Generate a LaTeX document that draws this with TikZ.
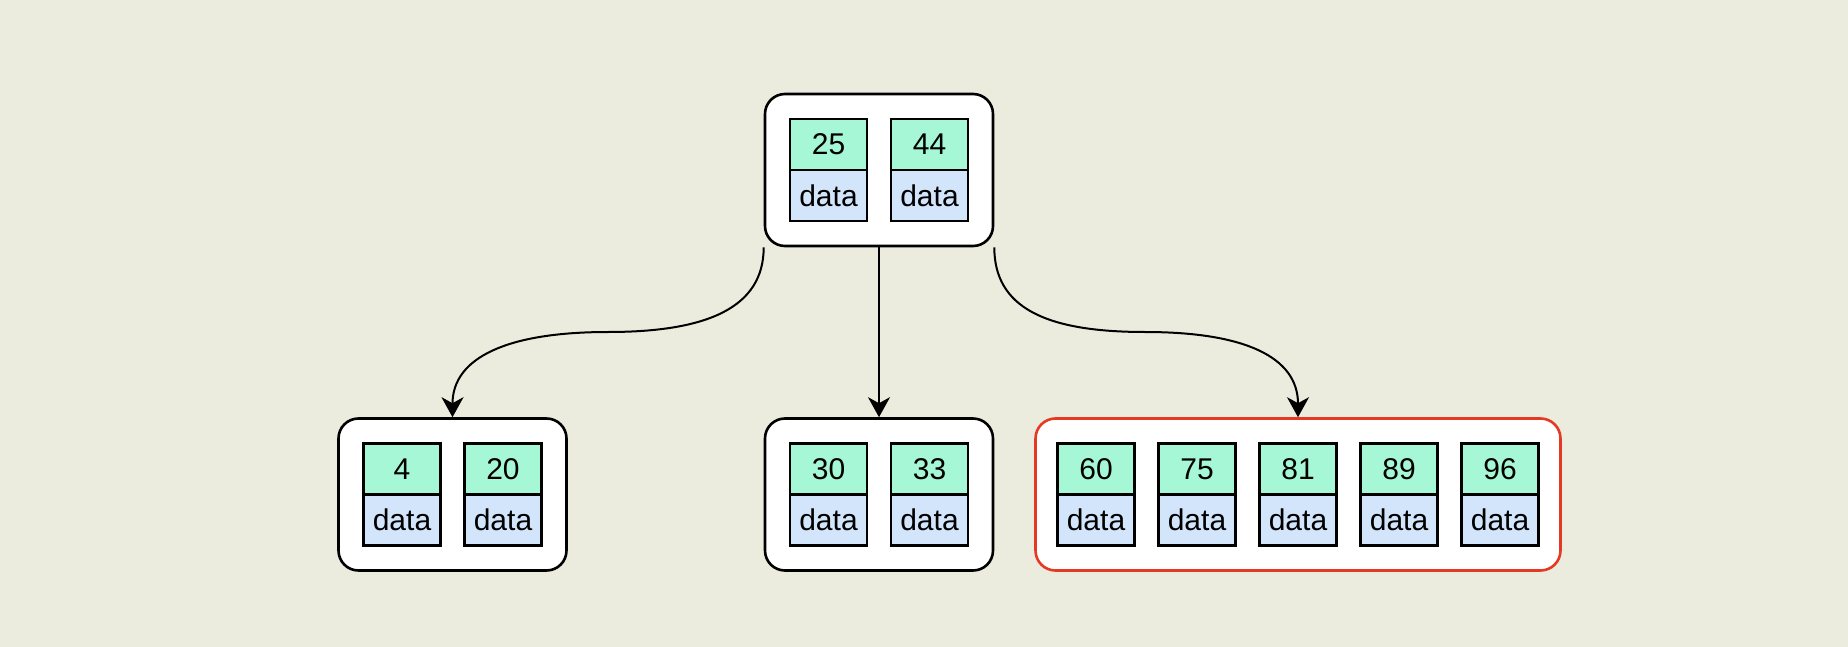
\documentclass[tikz,border=0pt]{standalone}
\usepackage{fontspec}
\setmainfont{Liberation Sans}
\usetikzlibrary{arrows.meta, positioning, fit, backgrounds}

\definecolor{canvas}{RGB}{236,236,222}
\definecolor{keygreen}{RGB}{166,247,214}
\definecolor{datablue}{RGB}{210,229,251}
\definecolor{hotred}{RGB}{229,57,35}

\begin{document}
\begin{tikzpicture}[
    x=0.5pt, y=-0.5pt,
    node distance=12pt,
    key/.style={rectangle, draw=black, line width=1.2pt, fill=keygreen, minimum width=38.5pt, minimum height=25.5pt, inner sep=0pt, outer sep=0pt, font=\fontsize{15}{18}\selectfont},
    val/.style={key, fill=datablue},
    page/.style={rectangle, rounded corners=10pt, draw=black, line width=1.3pt, fill=white, inner sep=12.5pt},
    arrow/.style={-{Stealth[length=10pt, width=11pt, inset=3pt]}, line width=1pt}
]
    \useasboundingbox (0,0) rectangle (1848,647);

    % Root node
    \node[key] (k25) at (828.5,144.5) {25};
    \node[val] (d25) [below=0pt of k25] {data};
    \node[key] (k44) [right=of k25] {44};
    \node[val] (d44) [below=0pt of k44] {data};

    % Left leaf
    \node[key] (k4) at (402,469) {4};
    \node[val] (d4) [below=0pt of k4] {data};
    \node[key] (k20) [right=of k4] {20};
    \node[val] (d20) [below=0pt of k20] {data};

    % Middle leaf
    \node[key] (k30) at (828.5,469) {30};
    \node[val] (d30) [below=0pt of k30] {data};
    \node[key] (k33) [right=of k30] {33};
    \node[val] (d33) [below=0pt of k33] {data};

    % Right leaf
    \node[key] (k60) at (1096,469) {60};
    \node[val] (d60) [below=0pt of k60] {data};
    \node[key] (k75) [right=of k60] {75};
    \node[val] (d75) [below=0pt of k75] {data};
    \node[key] (k81) [right=of k75] {81};
    \node[val] (d81) [below=0pt of k81] {data};
    \node[key] (k89) [right=of k81] {89};
    \node[val] (d89) [below=0pt of k89] {data};
    \node[key] (k96) [right=of k89] {96};
    \node[val] (d96) [below=0pt of k96] {data};

    % Boxes
    \begin{scope}[on background layer]
      \fill[canvas] (0,0) rectangle (1848,647);
      \node[page, fit=(k25)(d44)] (root) {};
      \node[page, fit=(k4)(d20)] (lft) {};
      \node[page, fit=(k30)(d33)] (mid) {};
      \node[page, draw=hotred, inner xsep=11pt, fit=(k60)(d96)] (rgt) {};
    \end{scope}

    % Arrows
    \coordinate (lbend) at (608,332);
    \coordinate (rbend) at (1145,332);
    \draw[arrow] (root.south west) .. controls +(0,60) and +(100,0) .. (lbend)
      .. controls +(-100,0) and +(0,-60) .. (lft.north);
    \draw[arrow] (root.south) -- (mid.north);
    \draw[arrow] (root.south east) .. controls +(0,60) and +(-100,0) .. (rbend)
      .. controls +(100,0) and +(0,-60) .. (rgt.north);
\end{tikzpicture}
\end{document}
